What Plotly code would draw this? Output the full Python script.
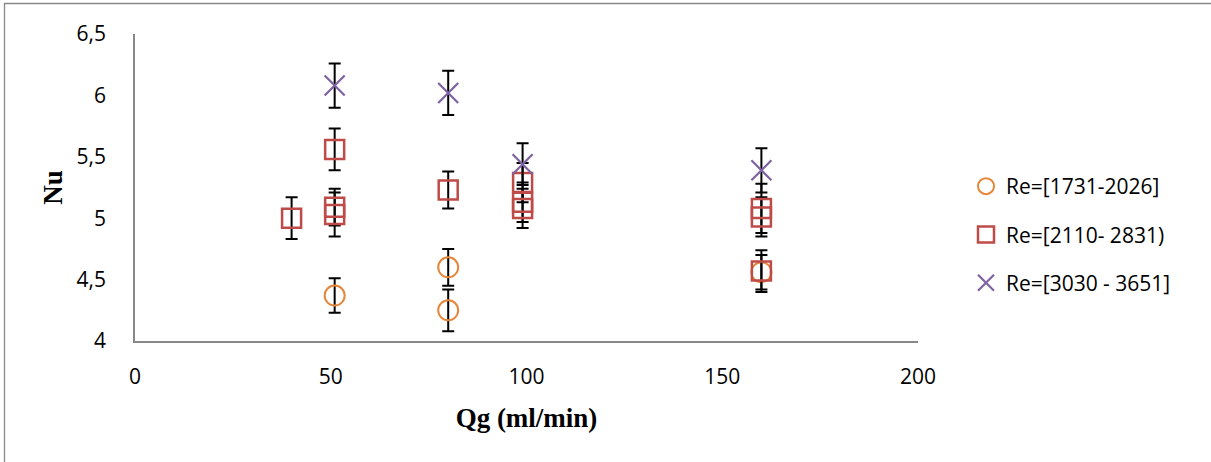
import plotly.graph_objects as go

# ---- data ----
qg_re1 = [51, 80, 80, 160]
nu_re1 = [4.37, 4.60, 4.25, 4.56]
err_re1 = [0.14, 0.15, 0.17, 0.14]

qg_re2 = [40, 51, 51, 51, 80, 99, 99, 99, 160, 160, 160]
nu_re2 = [5.00, 5.56, 5.09, 5.03, 5.23, 5.29, 5.13, 5.08, 5.08, 5.01, 4.57]
err_re2 = [0.17, 0.17, 0.15, 0.18, 0.15, 0.16, 0.16, 0.16, 0.20, 0.16, 0.17]

qg_re3 = [51, 80, 99, 160]
nu_re3 = [6.08, 6.02, 5.44, 5.39]
err_re3 = [0.18, 0.18, 0.17, 0.18]

names = ["Re=[1731-2026]", "Re=[2110- 2831)", "Re=[3030 - 3651]"]
x_ticks = [0, 50, 100, 150, 200]
y_ticks = [4, 4.5, 5, 5.5, 6, 6.5]

W, H = 1211, 462
L, R, T, B = 135, 293, 34, 121
pw, ph = W - L - R, H - T - B

tick_font = dict(family="Open Sans", size=21, color="black")
title_font = dict(family="Liberation Serif", size=27, color="black")

def err(vals):
    return dict(type="data", array=vals, visible=True, color="black",
                thickness=2, width=6)

fig = go.Figure()
fig.add_trace(go.Scatter(
    x=qg_re1, y=nu_re1, mode="markers", name=names[0], legendgroup="a",
    marker=dict(symbol="circle-open", size=20, color="#E5873A",
                line=dict(width=2, color="#E5873A")),
    error_y=err(err_re1)))
fig.add_trace(go.Scatter(
    x=qg_re2, y=nu_re2, mode="markers", name=names[1], legendgroup="b",
    marker=dict(symbol="square-open", size=19, color="#BE4B48",
                line=dict(width=2.5, color="#BE4B48")),
    error_y=err(err_re2)))
fig.add_trace(go.Scatter(
    x=qg_re3, y=nu_re3, mode="markers", name=names[2], legendgroup="c",
    marker=dict(symbol="x-thin-open", size=20, color="#7E62A1",
                line=dict(width=2.2, color="#7E62A1")),
    error_y=err(err_re3)))

# outer chart frame
fig.add_shape(type="rect", xref="paper", yref="paper",
              x0=(4.5 - L) / pw, x1=(W + 10 - L) / pw,
              y0=-(B + 10) / ph, y1=1 + (T - 3.5) / ph,
              line=dict(color="#898989", width=1.3), fillcolor="rgba(0,0,0,0)",
              layer="below")

fig.update_layout(
    width=W, height=H,
    margin=dict(l=L, r=R, t=T, b=B, pad=0),
    paper_bgcolor="white", plot_bgcolor="white",
    separators=",.",
    showlegend=True,
    legend=dict(x=(966 - L) / pw, y=1 - (166 - T) / ph, xanchor="left", yanchor="top",
                font=dict(family="Open Sans", size=21, color="black"),
                traceorder="grouped", tracegroupgap=18, bgcolor="rgba(0,0,0,0)",
                itemsizing="trace"),
    xaxis=dict(range=[0, 200], tickvals=x_ticks, showgrid=False, zeroline=False,
               showline=True, linecolor="#888888", linewidth=1.5, ticks="",
               tickfont=tick_font, ticklabelstandoff=16,
               title=dict(text="<b>Qg (ml/min)</b>", font=title_font, standoff=19)),
    yaxis=dict(range=[4, 6.5], tickvals=y_ticks, showgrid=False, zeroline=False,
               showline=True, linecolor="#888888", linewidth=1.5, ticks="",
               tickfont=tick_font, ticklabelstandoff=23,
               title=dict(text="<b>Nu</b>", font=title_font, standoff=6)),
)

fig.write_html("out.html", config={"displayModeBar": False},
               post_script="document.body.style.margin='0px';")
